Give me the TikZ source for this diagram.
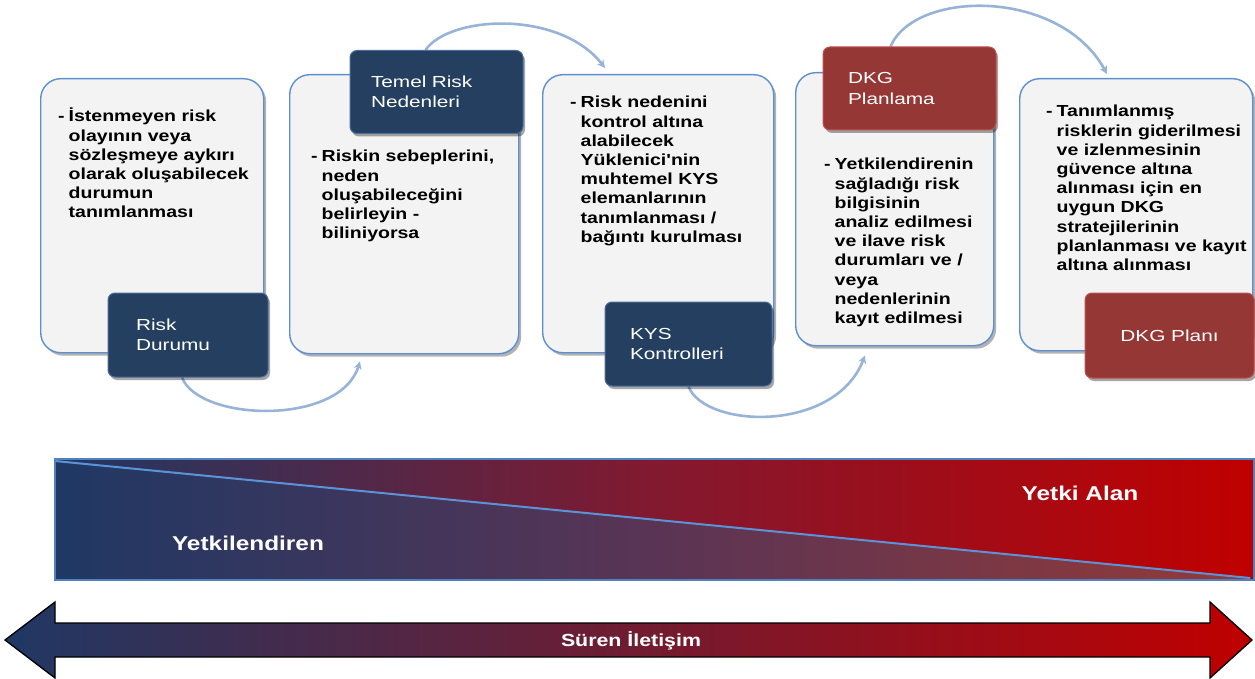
\documentclass[tikz,border=0pt]{standalone}
\usepackage{fontspec}
\setmainfont{Liberation Sans}
\newfontfamily\bodyfont[FakeStretch=1.22]{Liberation Sans}
\newfontfamily\labelfont[FakeStretch=1.3]{Liberation Sans}
\usetikzlibrary{shadows,arrows.meta,calc,backgrounds}
\definecolor{navy}{HTML}{243F60}
\definecolor{navyedge}{HTML}{4A6D9A}
\definecolor{redbox}{HTML}{953735}
\definecolor{rededge}{HTML}{C0504D}
\definecolor{panel}{HTML}{F3F3F3}
\definecolor{panelborder}{HTML}{5B8FD0}
\definecolor{arcblue}{HTML}{98B3D8}
\definecolor{barL}{HTML}{1F3864}
\definecolor{barM}{HTML}{82192F}
\definecolor{barR}{HTML}{C00000}
\definecolor{lowL}{HTML}{1F3864}
\definecolor{lowM}{HTML}{5A3455}
\definecolor{lowR}{HTML}{943A38}
\definecolor{barline}{HTML}{4F81BD}
\definecolor{diagline}{HTML}{5B93D8}
\definecolor{arrM}{HTML}{7A2848}
\newcommand{\bl}[1]{\begin{tabular}[t]{@{}l@{\hspace{4pt}}l@{}}#1\end{tabular}}
\begin{document}
\begin{tikzpicture}[x=1pt,y=-1pt,
  panelbox/.style={draw=panelborder, line width=1.4pt, fill=panel, rounded corners=20pt,
    drop shadow={shadow xshift=2.5pt,shadow yshift=-3pt,opacity=0.3,fill=black},
    anchor=north west, inner sep=0pt},
  tagbox/.style={line width=1pt, rounded corners=7pt, text=white, anchor=center,
    font=\labelfont\fontsize{16}{20.5}\selectfont, align=left, inner ysep=0pt,
    drop shadow={shadow xshift=2pt,shadow yshift=-3pt,opacity=0.35,fill=black}},
  navytag/.style={tagbox, fill=navy, draw=navyedge},
  redtag/.style={tagbox, fill=redbox, draw=rededge},
  bodytext/.style={anchor=base west, inner sep=0pt, text=black,
    font=\bodyfont\bfseries\fontsize{16}{19.2}\selectfont},
  arc/.style={draw=arcblue, line width=2.6pt, -{Stealth[length=8pt,width=8pt]}},
  bigtext/.style={text=white, font=\bodyfont\bfseries\fontsize{20}{24}\selectfont, inner sep=0pt}
]
\useasboundingbox (0,0) rectangle (1255,679);

% panels
\node[panelbox, minimum width=223pt, minimum height=274pt] (b1) at (40,78) {};
\node[panelbox, minimum width=229pt, minimum height=279pt] (b2) at (289,74) {};
\node[panelbox, minimum width=231pt, minimum height=278pt] (b3) at (542,74) {};
\node[panelbox, minimum width=198pt, minimum height=273pt] (b4) at (795,72) {};
\node[panelbox, minimum width=233pt, minimum height=272pt] (b5) at (1019,78) {};

% tags
\node[navytag, minimum width=160pt, minimum height=84pt, inner xsep=28pt, text width=104pt] (rd) at (188,335) {Risk\\Durumu};
\node[navytag, minimum width=173pt, minimum height=83pt, inner xsep=21pt, text width=131pt] (tr) at (436.5,92) {Temel Risk\\Nedenleri};
\node[navytag, minimum width=167pt, minimum height=84pt, inner xsep=25pt, text width=117pt] (kys) at (688.5,344) {KYS\\Kontrolleri};
\node[redtag, minimum width=173pt, minimum height=83pt, inner xsep=25pt, text width=123pt] (dp) at (909.5,88.5) {DKG\\Planlama};
\node[redtag, minimum width=169pt, minimum height=85pt, align=center] (dplan) at (1169.5,335.5) {DKG Planı};

% connectors (behind boxes)
\begin{scope}[on background layer]
\draw[arc] ($(rd.south)+(-6,0)$) .. controls ($(rd.south)+(11,44)$) and ($(b2.south west)+(51,72)$) .. ($(b2.south west)+(71,7)$);
\draw[arc] ($(tr.north)+(-11,0)$) .. controls ($(tr.north)+(13.5,-35)$) and ($(b3.north west)+(18,-64)$) .. ($(b3.north west)+(63,-6)$);
\draw[arc] (kys.south) .. controls ($(kys.south)+(16.5,42)$) and ($(b4.south west)+(40,87)$) .. ($(b4.south west)+(70,9)$);
\draw[arc] ($(dp.north)+(-19,0)$) .. controls ($(dp.north)+(5.5,-57)$) and ($(b5.north west)+(41,-90)$) .. ($(b5.north west)+(88,-4)$);
\end{scope}

% body texts
\node[bodytext] (t1) at ($(b1.north west)+(18,44)$) {\bl{-&İstenmeyen risk\\&olayının veya\\&sözleşmeye aykırı\\&olarak oluşabilecek\\&durumun\\&tanımlanması}};
\node[bodytext] (t2) at ($(b2.north west)+(22,88)$) {\bl{-&Riskin sebeplerini,\\&neden\\&oluşabileceğini\\&belirleyin -\\&biliniyorsa}};
\node[bodytext] (t3) at ($(b3.north west)+(28,34)$) {\bl{-&Risk nedenini\\&kontrol altına\\&alabilecek\\&Yüklenici'nin\\&muhtemel KYS\\&elemanlarının\\&tanımlanması /\\&bağıntı kurulması}};
\node[bodytext] (t4) at ($(b4.north west)+(29,98)$) {\bl{-&Yetkilendirenin\\&sağladığı risk\\&bilgisinin\\&analiz edilmesi\\&ve ilave risk\\&durumları ve /\\&veya\\&nedenlerinin\\&kayıt edilmesi}};
\node[bodytext] (t5) at ($(b5.north west)+(27,39)$) {\bl{-&Tanımlanmış\\&risklerin giderilmesi\\&ve izlenmesinin\\&güvence altına\\&alınması için en\\&uygun DKG\\&stratejilerinin\\&planlanması ve kayıt\\&altına alınması}};

% authority bar
\coordinate (btl) at (55,459);
\coordinate (bbr) at (1254,580);
\coordinate (dstart) at (55,461);
\coordinate (dend) at (1250,578);
\fill[left color=barL, right color=barR, middle color=barM] (btl) rectangle (bbr);
\fill[left color=lowL, right color=lowR, middle color=lowM] (dstart) -- (dend) -- (bbr) -- (btl |- bbr) -- cycle;
\draw[diagline, line width=2pt] (dstart) -- (dend);
\draw[barline, line width=2pt] (btl) rectangle (bbr);
\node[bigtext] (yk) at (248,543) {Yetkilendiren};
\node[bigtext] (ya) at (1080,493) {Yetki Alan};

% communication double arrow
\draw[black, line width=1.3pt, left color=barL, middle color=arrM, right color=barR]
  (5,640) -- (55,602) -- (55,623) -- (1210,623) -- (1210,602) -- (1252,640)
  -- (1210,678) -- (1210,657) -- (55,657) -- (55,678) -- cycle;
\node[text=white, font=\bodyfont\bfseries\fontsize{17.5}{20}\selectfont, inner sep=0pt] (si) at (631,641) {Süren İletişim};
\end{tikzpicture}
\end{document}
